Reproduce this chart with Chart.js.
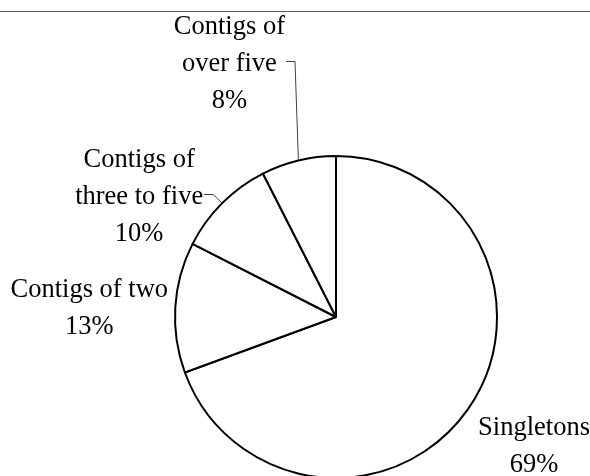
<!DOCTYPE html>
<html><head><meta charset="utf-8">
<script src="https://cdn.jsdelivr.net/npm/chart.js@4"></script>
<style>html,body{margin:0;padding:0;background:#fff;overflow:hidden}canvas{display:block}</style>
</head><body>
<canvas id="c" width="590" height="476"></canvas>
<script>
// ---- data ----
const categories = ['Singletons', 'Contigs of two', 'Contigs of three to five', 'Contigs of over five'];
const labelLines = [['Singletons'], ['Contigs of two'], ['Contigs of', 'three to five'], ['Contigs of', 'over five']];
const shares = [69.4, 13.1, 10.0, 7.5];

// ---- label layout (relative to each slice's outer mid-point) ----
const labelOffsets = [[66, 26], [-86, -10], [-83, -36], [-69, -126]];
const leaders = [false, false, true, true];
const FONT = '26.5px "Liberation Serif", "Times New Roman", serif';
const LINE_H = 37;

const labelPlugin = {
  id: 'pieLabels',
  beforeDraw(chart) {
    const ctx = chart.ctx;
    ctx.save();
    ctx.strokeStyle = '#5a5a5a';
    ctx.lineWidth = 1;
    ctx.beginPath();
    ctx.moveTo(0, 11.5);
    ctx.lineTo(chart.width, 11.5);
    ctx.stroke();
    ctx.restore();
  },
  afterDatasetsDraw(chart) {
    const ctx = chart.ctx;
    const meta = chart.getDatasetMeta(0);
    const total = shares.reduce((a, b) => a + b, 0);
    ctx.save();
    ctx.font = FONT;
    ctx.fillStyle = '#000';
    ctx.textAlign = 'center';
    ctx.textBaseline = 'alphabetic';
    meta.data.forEach((arc, i) => {
      const p = arc.getProps(['x', 'y', 'startAngle', 'endAngle', 'outerRadius'], true);
      const mid = (p.startAngle + p.endAngle) / 2;
      const ax = p.x + Math.cos(mid) * p.outerRadius;
      const ay = p.y + Math.sin(mid) * p.outerRadius;
      const cx = ax + labelOffsets[i][0];
      const by = ay + labelOffsets[i][1];
      const lines = [...labelLines[i], Math.round(shares[i] / total * 100) + '%'];
      lines.forEach((t, k) => ctx.fillText(t, cx, by + k * LINE_H));
      if (leaders[i]) {
        const w = Math.max(...lines.map(t => ctx.measureText(t).width));
        const midBase = by + (lines.length - 1) * LINE_H / 2;
        const ly = Math.round(midBase - 10) + 0.5;
        const x0 = cx + w / 2 + 1;
        ctx.strokeStyle = '#404040';
        ctx.lineWidth = 1;
        ctx.beginPath();
        ctx.moveTo(x0, ly);
        ctx.lineTo(x0 + 9, ly);
        ctx.lineTo(ax, ay);
        ctx.stroke();
      }
    });
    ctx.restore();
  }
};

new Chart(document.getElementById('c'), {
  type: 'pie',
  data: {
    labels: categories,
    datasets: [{
      data: shares,
      backgroundColor: '#ffffff',
      borderColor: '#000000',
      borderWidth: 2,
      radius: 161
    }]
  },
  options: {
    responsive: false,
    animation: false,
    layout: { padding: { top: 158, bottom: 0, left: 82, right: 0 } },
    plugins: { legend: { display: false }, tooltip: { enabled: false } }
  },
  plugins: [labelPlugin]
});
</script>
</body></html>
